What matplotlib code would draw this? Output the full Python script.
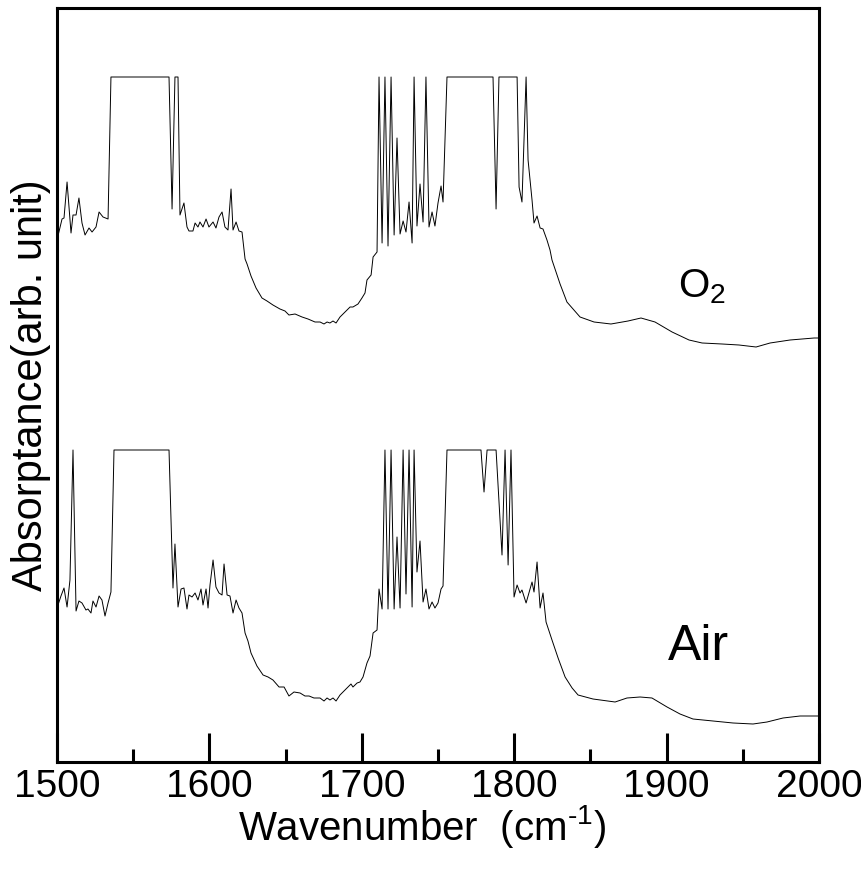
import matplotlib
matplotlib.use("Agg")
import matplotlib.pyplot as plt
from matplotlib.ticker import MultipleLocator

# O2 spectrum (upper trace), absorptance in arbitrary units
o2_wavenumber = [
    1500.0, 1503.3, 1504.6, 1506.6, 1509.2, 1510.5, 1512.5, 1514.4, 1516.4, 1518.4,
    1521.0, 1523.0, 1525.6, 1527.6, 1530.2, 1533.5, 1535.4, 1573.5, 1575.5, 1577.4,
    1579.4, 1580.7, 1583.3, 1585.3, 1586.6, 1589.2, 1590.6, 1592.5, 1593.8, 1595.8,
    1597.8, 1599.7, 1602.4, 1604.3, 1606.3, 1608.3, 1610.2, 1612.2, 1614.2, 1615.5,
    1617.5, 1619.4, 1621.4, 1623.4, 1624.7, 1627.3, 1630.6, 1634.5, 1637.8, 1641.7,
    1646.3, 1649.6, 1652.2, 1656.2, 1660.8, 1664.7, 1669.3, 1672.6, 1675.2, 1677.2,
    1679.1, 1681.1, 1683.1, 1685.7, 1689.0, 1692.3, 1694.2, 1697.5, 1700.1, 1702.1,
    1703.4, 1706.1, 1707.4, 1710.0, 1711.3, 1713.3, 1715.2, 1717.2, 1719.2, 1721.2,
    1723.1, 1725.1, 1727.1, 1729.0, 1731.0, 1733.0, 1734.3, 1736.2, 1738.2, 1740.2,
    1742.1, 1744.1, 1746.1, 1748.0, 1750.0, 1752.0, 1753.3, 1755.9, 1786.1, 1788.1,
    1790.0, 1801.9, 1803.2, 1805.1, 1807.8, 1809.1, 1811.7, 1813.0, 1815.0, 1817.0,
    1818.9, 1821.5, 1823.5, 1824.8, 1830.1, 1834.6, 1843.2, 1852.4, 1863.5, 1874.7,
    1883.2, 1892.4, 1903.6, 1914.7, 1923.3, 1936.4, 1947.5, 1958.7, 1967.9, 1981.0,
    1996.8, 2000.0,
]
o2_absorptance = [
    522, 543, 544, 580, 529, 547, 547, 564, 539, 527,
    534, 530, 535, 550, 545, 543, 685, 685, 553, 685,
    685, 547, 559, 535, 531, 531, 539, 535, 540, 535,
    543, 535, 540, 534, 545, 550, 535, 532, 573, 532,
    540, 531, 530, 503, 498, 486, 474, 464, 461, 457,
    453, 451, 447, 448, 445, 443, 440, 440, 438, 440,
    439, 441, 439, 445, 450, 455, 455, 458, 464, 469,
    482, 487, 505, 510, 685, 519, 685, 516, 685, 527,
    624, 528, 541, 530, 560, 519, 685, 536, 578, 540,
    685, 535, 550, 536, 559, 576, 560, 685, 685, 553,
    685, 685, 575, 560, 685, 602, 562, 539, 546, 534,
    533, 522, 512, 502, 478, 460, 445, 440, 438, 441,
    444, 440, 430, 422, 419, 418, 417, 415, 419, 422,
    424, 424,
]

# Air spectrum (lower trace)
air_wavenumber = [
    1500.0, 1502.6, 1504.6, 1506.6, 1508.5, 1510.5, 1512.5, 1514.4, 1516.4, 1519.0,
    1520.3, 1522.3, 1523.6, 1525.6, 1527.6, 1529.5, 1531.5, 1533.5, 1535.4, 1537.4,
    1573.5, 1576.1, 1577.4, 1579.4, 1581.4, 1583.3, 1585.3, 1586.6, 1588.6, 1590.6,
    1592.5, 1594.5, 1595.8, 1597.8, 1599.1, 1600.4, 1602.4, 1604.3, 1606.3, 1608.3,
    1609.6, 1611.6, 1613.5, 1615.5, 1617.5, 1619.4, 1621.4, 1623.4, 1625.3, 1627.3,
    1631.2, 1635.2, 1638.5, 1641.7, 1645.7, 1649.0, 1652.2, 1655.5, 1659.5, 1662.7,
    1665.4, 1668.6, 1672.6, 1675.2, 1677.2, 1679.1, 1681.1, 1683.1, 1685.7, 1690.3,
    1692.9, 1694.2, 1696.9, 1698.8, 1700.8, 1703.4, 1705.4, 1707.4, 1710.0, 1711.3,
    1713.3, 1715.2, 1717.2, 1719.2, 1721.2, 1723.1, 1725.1, 1727.1, 1729.0, 1731.0,
    1733.0, 1734.3, 1736.2, 1738.2, 1740.2, 1742.1, 1744.1, 1746.1, 1748.0, 1750.0,
    1752.0, 1753.3, 1755.9, 1778.2, 1780.2, 1782.2, 1788.1, 1792.0, 1794.0, 1796.0,
    1797.9, 1799.9, 1801.9, 1803.8, 1805.1, 1807.8, 1811.7, 1813.0, 1815.0, 1817.0,
    1818.9, 1820.9, 1824.8, 1828.8, 1833.4, 1838.0, 1841.9, 1851.7, 1866.2, 1874.0,
    1882.6, 1890.4, 1900.3, 1908.8, 1917.3, 1930.5, 1943.6, 1956.7, 1965.9, 1976.4,
    1987.6, 2000.0,
]
air_absorptance = [
    154, 166, 174, 155, 182, 312, 151, 161, 159, 152,
    153, 149, 161, 155, 166, 162, 146, 159, 170, 312,
    312, 174, 218, 155, 173, 174, 153, 167, 165, 169,
    162, 173, 157, 173, 154, 177, 202, 175, 169, 167,
    198, 167, 166, 149, 162, 154, 149, 129, 121, 109,
    96, 87, 85, 82, 75, 75, 66, 70, 69, 66,
    66, 64, 64, 61, 64, 62, 64, 61, 67, 74,
    78, 75, 79, 80, 85, 99, 106, 129, 132, 173,
    153, 312, 153, 312, 153, 225, 154, 312, 168, 312,
    155, 312, 190, 221, 160, 173, 153, 160, 154, 159,
    173, 176, 312, 312, 270, 312, 312, 207, 312, 197,
    312, 165, 177, 169, 172, 159, 180, 170, 200, 154,
    169, 140, 122, 104, 85, 74, 67, 63, 60, 64,
    65, 64, 55, 48, 43, 41, 39, 38, 40, 44,
    46, 46,
]

x_ticks = [1500, 1600, 1700, 1800, 1900, 2000]

plt.rcParams["font.family"] = ["Liberation Sans", "DejaVu Sans"]
plt.rcParams["mathtext.fontset"] = "custom"
plt.rcParams["mathtext.rm"] = "Liberation Sans"
plt.rcParams["mathtext.default"] = "regular"

fig = plt.figure(figsize=(8.62, 8.74), dpi=100)
ax = fig.add_axes([57 / 862, 112 / 874, 762 / 862, 754 / 874])

ax.plot(o2_wavenumber, o2_absorptance, color="black", linewidth=0.7)
ax.plot(air_wavenumber, air_absorptance, color="black", linewidth=0.7)

ax.set_xlim(1500, 2000)
ax.set_ylim(0, 754)
ax.set_xticks(x_ticks)
ax.xaxis.set_minor_locator(MultipleLocator(50))
ax.set_yticks([])

for side in ["left", "right", "top", "bottom"]:
    ax.spines[side].set_linewidth(2.2)

ax.tick_params(axis="x", which="major", direction="in", length=21, width=2.2,
               labelsize=28, pad=5)
ax.tick_params(axis="x", which="minor", direction="in", length=9.5, width=2.2)

# hyphen-style superscript like the original
ax.set_xlabel("Wavenumber  (cm$^{\\text{-}1}$)", fontsize=29, labelpad=1)
ax.xaxis.set_label_coords(0.479, -0.055)
ax.set_ylabel("Absorptance(arb. unit)", fontsize=30, labelpad=4)

ax.text(0.815, 0.63, "O$_{2}$", transform=ax.transAxes, fontsize=29,
        ha="left", va="center")
ax.text(0.802, 0.153, "Air", transform=ax.transAxes, fontsize=36,
        ha="left", va="center")

fig.savefig("out.png", dpi=100)
plt.close(fig)
